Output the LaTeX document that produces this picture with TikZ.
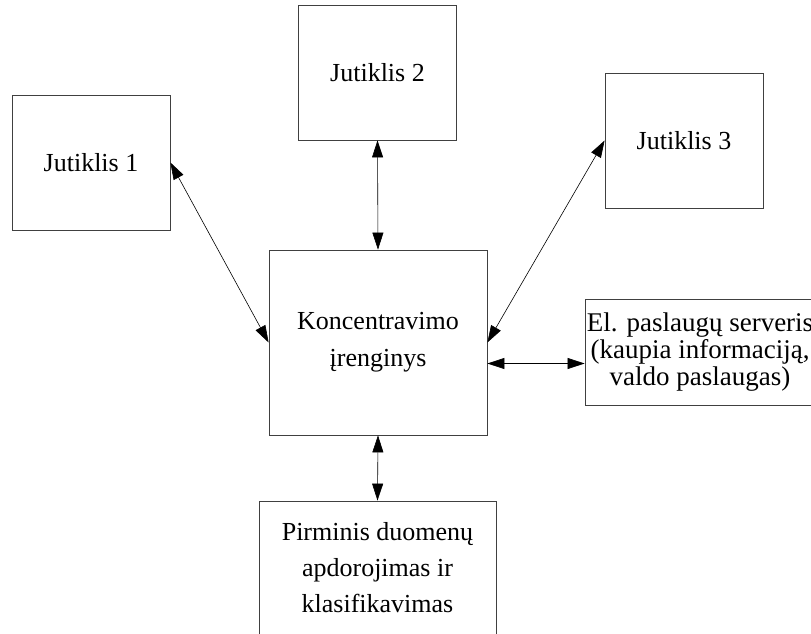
\documentclass[tikz,border=0pt]{standalone}
\usepackage{fontspec}
\setmainfont{Liberation Serif}
\usetikzlibrary{arrows.meta}

\tikzset{
  blokas/.style={draw=black!75, line width=0.8pt, align=center, inner sep=0pt,
    font=\fontsize{26}{37}\selectfont},
  jutiklis/.style={blokas, minimum width=158pt, minimum height=135pt},
  rodykle/.style={{Triangle[length=17pt,width=11pt]}-{Triangle[length=17pt,width=11pt]}, line width=0.6pt}
}

\begin{document}
\begin{tikzpicture}[x=1pt,y=-1pt]
        \useasboundingbox (0,0) rectangle (811,634);
        \path (91,162.5) node[jutiklis] (J1) {Jutiklis 1} (377.5,72.5) node[jutiklis] (J2) {Jutiklis 2} (684,140.5) node[jutiklis] (J3) {Jutiklis 3};
        \path (378,342.5) node[blokas, minimum width=218pt, minimum height=185pt] (K) {Koncentravimo\\įrenginys};
        \path (700,352) node[blokas, minimum width=230pt, minimum height=106pt, font=\fontsize{27}{27}\selectfont] (S) {El. paslaugų serveris\\(kaupia informaciją,\\valdo paslaugas)};
        \path (377.5,568) node[blokas, minimum width=237pt, minimum height=134pt, font=\fontsize{26}{36}\selectfont] (P) {Pirminis duomenų\\apdorojimas ir\\klasifikavimas};

        \coordinate (KS) at ([yshift=-21pt]K.east);
        \draw[rodykle] (J1.east) -- (K.west);
        \draw[rodykle] (J2.south) -- (K.north);
        \draw[rodykle] (J3.west) -- (K.east);
        \draw[rodykle] (KS) -- (KS -| S.west);
        \draw[rodykle] (K.south) -- (P.north);
        \end{tikzpicture}
\end{document}
